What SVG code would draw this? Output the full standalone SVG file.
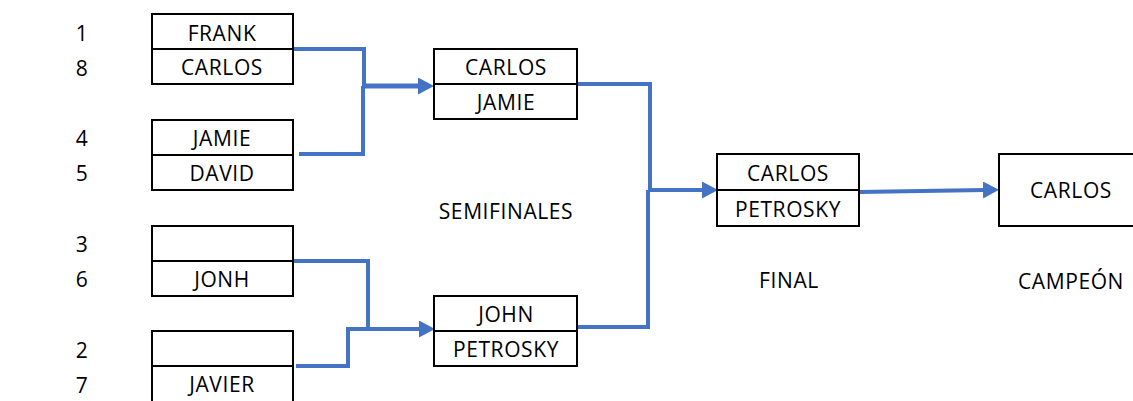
<svg xmlns="http://www.w3.org/2000/svg" width="1133" height="401" viewBox="0 0 1133 401">
  <style>
    .box { fill: #ffffff; stroke: #000000; stroke-width: 2; }
    .div { stroke: #000000; stroke-width: 2; }
    .t { font-family: "Open Sans", "Noto Sans", sans-serif; font-size: 21px; fill: #000000; text-anchor: middle; letter-spacing: 0.6px; }
    .link { fill: none; stroke: #4472C4; stroke-width: 4; stroke-linejoin: miter; }
    .thick { stroke-width: 5; }
  </style>
  <defs>
    <marker id="arrow" markerUnits="userSpaceOnUse" markerWidth="18" markerHeight="18" refX="2" refY="8.5" orient="auto">
      <path d="M0,0 L16,8.5 L0,17 z" fill="#4472C4"/>
    </marker>
  </defs>
  <rect width="1133" height="401" fill="#ffffff"/>

  <!-- seed numbers -->
  <g id="seeds">
    <text class="t" x="82" y="41">1</text>
    <text class="t" x="82" y="76">8</text>
    <text class="t" x="82" y="146">4</text>
    <text class="t" x="82" y="181">5</text>
    <text class="t" x="82" y="252">3</text>
    <text class="t" x="82" y="287">6</text>
    <text class="t" x="82" y="358">2</text>
    <text class="t" x="82" y="393">7</text>
  </g>

  <!-- connectors -->
  <g id="connectors">
    <path class="link" d="M293,49 H364 V86"/>
    <path class="link thick" d="M362,86 H420" marker-end="url(#arrow)"/>
    <path class="link" d="M299,154 H363 V86"/>
    <path class="link" d="M293,261 H368 V329 H421" marker-end="url(#arrow)"/>
    <path class="link" d="M296,366 H348 V329 H368"/>
    <path class="link" d="M577,84 H650 V190 H704" marker-end="url(#arrow)"/>
    <path class="link" d="M577,327 H648 V190"/>
    <path class="link" d="M859,192 L985,190" marker-end="url(#arrow)"/>
  </g>

  <!-- round of eight -->
  <g id="match-1-8">
    <rect class="box" x="152" y="14" width="141" height="70"/>
    <line class="div" x1="152" y1="49" x2="293" y2="49"/>
    <text class="t" x="222" y="41">FRANK</text>
    <text class="t" x="222" y="75">CARLOS</text>
  </g>
  <g id="match-4-5">
    <rect class="box" x="152" y="120" width="141" height="70"/>
    <line class="div" x1="152" y1="155" x2="293" y2="155"/>
    <text class="t" x="222" y="146">JAMIE</text>
    <text class="t" x="222" y="181">DAVID</text>
  </g>
  <g id="match-3-6">
    <rect class="box" x="152" y="226" width="141" height="70"/>
    <line class="div" x1="152" y1="261" x2="293" y2="261"/>
    <text class="t" x="222" y="287">JONH</text>
  </g>
  <g id="match-2-7">
    <rect class="box" x="152" y="331" width="141" height="72"/>
    <line class="div" x1="152" y1="366" x2="293" y2="366"/>
    <text class="t" x="222" y="392">JAVIER</text>
  </g>

  <!-- semifinals -->
  <g id="semi-1">
    <rect class="box" x="434" y="49" width="143" height="70"/>
    <line class="div" x1="434" y1="84" x2="577" y2="84"/>
    <text class="t" x="506" y="75">CARLOS</text>
    <text class="t" x="506" y="110">JAMIE</text>
  </g>
  <g id="semi-2">
    <rect class="box" x="434" y="296" width="143" height="70"/>
    <line class="div" x1="434" y1="331" x2="577" y2="331"/>
    <text class="t" x="506" y="322">JOHN</text>
    <text class="t" x="506" y="357">PETROSKY</text>
  </g>
  <g id="semi-label">
    <text class="t" x="506" y="219">SEMIFINALES</text>
  </g>

  <!-- final -->
  <g id="final">
    <rect class="box" x="717" y="154" width="142" height="72"/>
    <line class="div" x1="717" y1="190" x2="859" y2="190"/>
    <text class="t" x="788" y="181">CARLOS</text>
    <text class="t" x="788" y="217">PETROSKY</text>
  </g>
  <g id="final-label">
    <text class="t" x="789" y="288">FINAL</text>
  </g>

  <!-- champion -->
  <g id="champion">
    <rect class="box" x="999" y="154" width="150" height="72"/>
    <text class="t" x="1071" y="198">CARLOS</text>
  </g>
  <g id="champion-label">
    <text class="t" x="1071" y="289">CAMPEÓN</text>
  </g>
</svg>
